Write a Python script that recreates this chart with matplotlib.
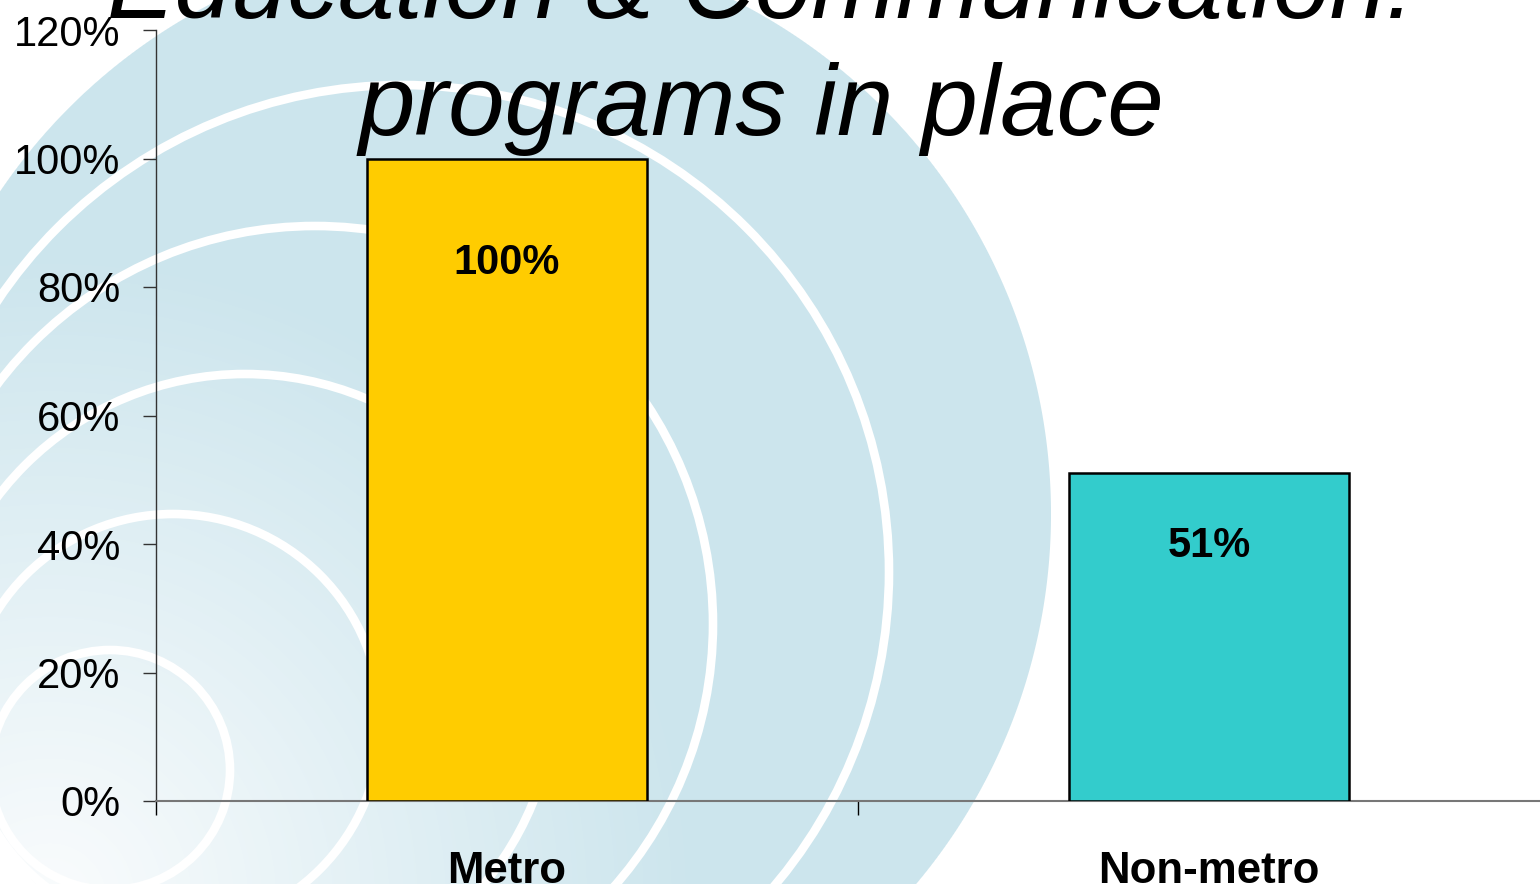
import numpy as np
import matplotlib.pyplot as plt
from matplotlib.patches import Circle
from matplotlib.ticker import PercentFormatter

# data
categories = ['Metro', 'Non-metro']
values = [1.00, 0.51]
yticks = [0, 0.2, 0.4, 0.6, 0.8, 1.0, 1.2]
title_lines = ['Education & Communication:', 'programs in place']

# styles
bar_colors = ['#FFCC00', '#33CCCC']
label_drop = [-116, -84]   # label baseline below bar top, pixels

plt.rcParams['font.family'] = ['Liberation Sans', 'DejaVu Sans']

W, H = 1540, 884
fig = plt.figure(figsize=(W / 100, H / 100), dpi=100)

# ---- background: pale blue disc with white ripples ----
bg = fig.add_axes([0, 0, 1, 1], zorder=0)
bg.set_xlim(0, W)
bg.set_ylim(H, 0)
bg.axis('off')

yy, xx = np.mgrid[0:H, 0:W] + 0.5
t = np.clip(np.hypot(xx - 50, yy - 900) / 650, 0, 1)[..., None]
light = np.array([250, 252, 253]) / 255
blue = np.array([204, 229, 237]) / 255
img = light * (1 - t) + blue * t
inside = np.clip(575 - np.hypot(xx - 476, yy - 514) + 0.5, 0, 1)[..., None]
img = img * inside + (1 - inside)
bg.imshow(img, extent=(0, W, H, 0), aspect='auto', interpolation='bilinear')

ripples = [((110, 770), 120), ((173, 722), 208), ((245, 685), 311),
           ((315, 624), 398), ((402, 572), 487)]
for c, r in ripples:
    bg.add_patch(Circle(c, r, fill=False, ec='white', lw=6.2))

# ---- chart ----
ax = fig.add_axes([156 / W, (H - 801) / H, 1404 / W, 771 / H], zorder=1)
ax.patch.set_alpha(0)

x = np.arange(len(categories))
bars = ax.bar(x, values, width=0.4, color=bar_colors,
              edgecolor='black', linewidth=1.8, zorder=3)
ax.set_xlim(-0.5, 1.5)
ax.set_ylim(0, 1.2)

ax.set_yticks(yticks)
ax.yaxis.set_major_formatter(PercentFormatter(1.0, decimals=0))
ax.tick_params(axis='y', length=9.4, width=1, color='#333333', pad=16.5,
               labelsize=30)

ax.set_xticks([-0.5, 0.5, 1.5])
ax.set_xticklabels([])
ax.set_xticks(x, minor=True)
ax.set_xticklabels(categories, minor=True, fontweight='bold', fontsize=31.5)
ax.tick_params(axis='x', which='major', length=10, width=1, color='black')
ax.tick_params(axis='x', which='minor', length=0, pad=36)

for s in ['top', 'right']:
    ax.spines[s].set_visible(False)
ax.spines['left'].set_color('#333333')
ax.spines['left'].set_linewidth(1)
ax.spines['bottom'].set_color('#777777')
ax.spines['bottom'].set_linewidth(1.5)

for rect, v, off in zip(bars, values, label_drop):
    ax.annotate(f'{v:.0%}', (rect.get_x() + rect.get_width() / 2, v),
                xytext=(0, off), textcoords='offset pixels',
                ha='center', va='baseline', fontsize=30, fontweight='bold',
                zorder=4)

# title, top line runs off the picture like in the slide
fig.text(761 / W, 1 - 18 / H, title_lines[0], ha='center', va='baseline',
         fontsize=73, style='italic', zorder=5)
fig.text(761 / W, 1 - 135 / H, title_lines[1], ha='center', va='baseline',
         fontsize=73, style='italic', zorder=5)

fig.savefig('out.png', dpi=100)
